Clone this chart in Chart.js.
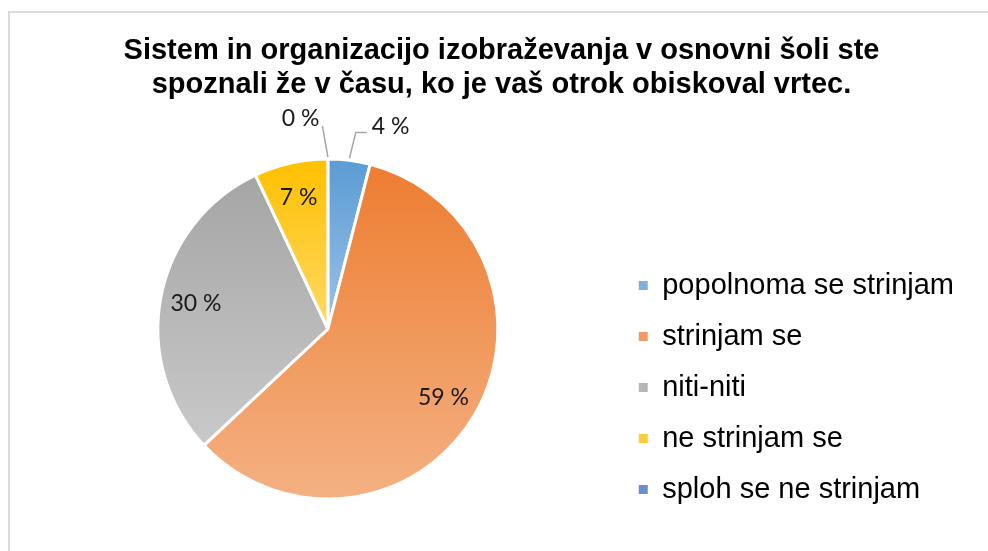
<!DOCTYPE html>
<html>
<head>
<meta charset="utf-8">
<script src="https://cdn.jsdelivr.net/npm/chart.js@4"></script>
<style>
  body { margin: 0; background: #fff; overflow: hidden; }
  .frame {
    position: absolute; left: 8px; top: 11px;
    width: 1200px; height: 800px;
    border: 2px solid #d9d9d9;
  }
  #pie { position: absolute; left: 0; top: 0; }
</style>
</head>
<body>
<div class="frame"></div>
<canvas id="pie" width="988" height="551"></canvas>
<script>
const categories = ['popolnoma se strinjam', 'strinjam se', 'niti-niti', 'ne strinjam se', 'sploh se ne strinjam'];
const percents = [4, 59, 30, 7, 0];
const titleLines = ['Sistem in organizacijo izobraževanja v osnovni šoli ste', 'spoznali že v času, ko je vaš otrok obiskoval vrtec.'];

// excel-ish gradient ends, top -> bottom
const topColors = ['#5B9BD5', '#ED7D31', '#A5A5A5', '#FFC000', '#4472C4'];
const bottomColors = ['#9DC3E6', '#F4B183', '#C9C9C9', '#FFD966', '#8FAADC'];
const legendColors = ['#7DB0DE', '#F09A65', '#B7B7B7', '#FFCD3A', '#6A8FD0'];

const PIE_R = 170;

function sliceSpan(i, cy, r) {
  const total = percents.reduce((a, b) => a + b, 0);
  const before = percents.slice(0, i).reduce((a, b) => a + b, 0);
  const a0 = -Math.PI / 2 + 2 * Math.PI * before / total;
  const a1 = a0 + 2 * Math.PI * percents[i] / total;
  const ys = [cy, cy + r * Math.sin(a0), cy + r * Math.sin(a1)];
  [-Math.PI / 2, Math.PI / 2, 3 * Math.PI / 2].forEach(k => {
    if (k > a0 && k < a1) ys.push(cy + r * Math.sin(k));
  });
  return [Math.min(...ys), Math.max(...ys)];
}

function sliceFill(context) {
  const i = context.dataIndex;
  const chart = context.chart;
  const area = chart.chartArea;
  if (!area || !percents[i]) return topColors[i];
  const cy = (area.top + area.bottom) / 2;
  const [y0, y1] = sliceSpan(i, cy, PIE_R);
  const g = chart.ctx.createLinearGradient(0, y0, 0, y1);
  g.addColorStop(0, topColors[i]);
  g.addColorStop(1, bottomColors[i]);
  return g;
}

// value labels, inside for big slices, outside with leader line for small ones
const sliceLabels = {
  id: 'sliceLabels',
  afterDatasetsDraw(chart, args, opts) {
    const ctx = chart.ctx;
    const meta = chart.getDatasetMeta(0);
    ctx.save();
    ctx.font = opts.font;
    ctx.fillStyle = opts.color;
    ctx.textAlign = 'center';
    ctx.textBaseline = 'middle';
    meta.data.forEach((arc, i) => {
      const p = arc.getProps(['x', 'y', 'startAngle', 'endAngle', 'outerRadius']);
      const mid = (p.startAngle + p.endAngle) / 2;
      const txt = percents[i] + ' %';
      if (percents[i] >= 5) {
        const d = p.outerRadius * 0.79;
        ctx.fillText(txt, p.x + Math.cos(mid) * d, p.y + Math.sin(mid) * d);
        return;
      }
      const ang = mid + (opts.nudge[i] || 0) * Math.PI / 180;
      const d = p.outerRadius + 42;
      const lx = p.x + Math.cos(ang) * d;
      const ly = p.y + Math.sin(ang) * d;
      const w = ctx.measureText(txt).width;
      ctx.fillText(txt, lx, ly);
      const sx = p.x + Math.cos(mid) * (p.outerRadius + 2);
      const sy = p.y + Math.sin(mid) * (p.outerRadius + 2);
      ctx.beginPath();
      ctx.strokeStyle = '#a6a6a6';
      ctx.lineWidth = 1.5;
      ctx.moveTo(sx, sy);
      if (lx > p.x) {
        const ex = lx - w / 2 - 5;
        ctx.lineTo(ex - 11, ly + 6);
        ctx.lineTo(ex, ly + 6);
      } else {
        ctx.lineTo(lx + w / 2 + 3, ly + 7);
      }
      ctx.stroke();
    });
    ctx.restore();
  }
};

new Chart(document.getElementById('pie'), {
  type: 'pie',
  data: {
    labels: categories,
    datasets: [{
      data: percents,
      backgroundColor: sliceFill,
      borderColor: '#ffffff',
      borderWidth: 3,
      radius: PIE_R
    }]
  },
  options: {
    responsive: false,
    animation: false,
    layout: { padding: { left: 39, right: 24, top: 0, bottom: 25 } },
    plugins: {
      title: {
        display: true,
        text: titleLines,
        color: '#000',
        font: { family: '"Liberation Sans", Arial, sans-serif', size: 29, weight: 'bold', lineHeight: '34px' },
        padding: { top: 34, bottom: 30 }
      },
      legend: {
        position: 'right',
        align: 'end',
        labels: {
          color: '#000',
          font: { family: '"Liberation Sans", Arial, sans-serif', size: 29 },
          boxWidth: 9,
          boxHeight: 9,
          padding: 22,
          generateLabels(chart) {
            const items = Chart.overrides.doughnut.plugins.legend.labels.generateLabels(chart);
            items.forEach((it, i) => {
              it.fillStyle = legendColors[i];
              it.strokeStyle = legendColors[i];
              it.lineWidth = 0;
            });
            return items;
          }
        }
      },
      tooltip: { enabled: false },
      sliceLabels: {
        font: '23px Lato, "Open Sans", sans-serif',
        color: '#1a1a1a',
        nudge: { 0: 10, 4: -7.4 }
      }
    }
  },
  plugins: [sliceLabels]
});
</script>
</body>
</html>
